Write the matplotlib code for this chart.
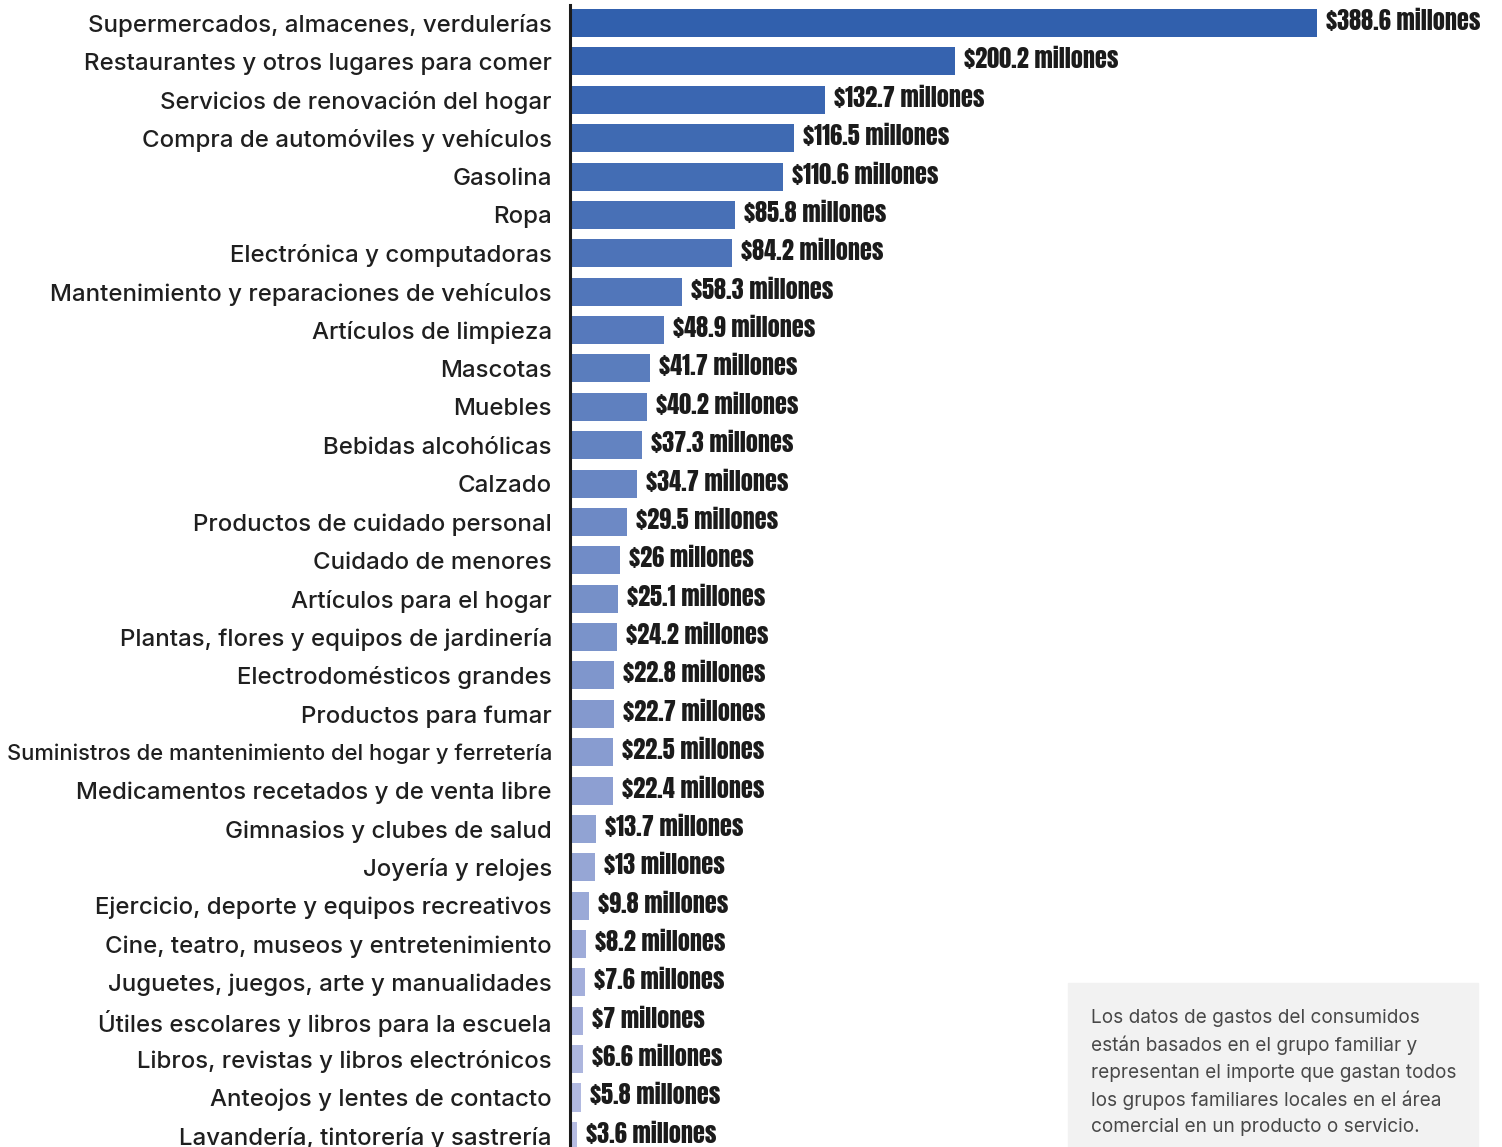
import matplotlib
matplotlib.use("Agg")
import matplotlib.pyplot as plt
import matplotlib.colors as mcolors
from matplotlib import font_manager
import numpy as np

categories = [
    "Supermercados, almacenes, verdulerías",
    "Restaurantes y otros lugares para comer",
    "Servicios de renovación del hogar",
    "Compra de automóviles y vehículos",
    "Gasolina",
    "Ropa",
    "Electrónica y computadoras",
    "Mantenimiento y reparaciones de vehículos",
    "Artículos de limpieza",
    "Mascotas",
    "Muebles",
    "Bebidas alcohólicas",
    "Calzado",
    "Productos de cuidado personal",
    "Cuidado de menores",
    "Artículos para el hogar",
    "Plantas, flores y equipos de jardinería",
    "Electrodomésticos grandes",
    "Productos para fumar",
    "Suministros de mantenimiento del hogar y ferretería",
    "Medicamentos recetados y de venta libre",
    "Gimnasios y clubes de salud",
    "Joyería y relojes",
    "Ejercicio, deporte y equipos recreativos",
    "Cine, teatro, museos y entretenimiento",
    "Juguetes, juegos, arte y manualidades",
    "Útiles escolares y libros para la escuela",
    "Libros, revistas y libros electrónicos",
    "Anteojos y lentes de contacto",
    "Lavandería, tintorería y sastrería",
]
values = [388.6, 200.2, 132.7, 116.5, 110.6, 85.8, 84.2, 58.3, 48.9, 41.7,
          40.2, 37.3, 34.7, 29.5, 26, 25.1, 24.2, 22.8, 22.7, 22.5,
          22.4, 13.7, 13, 9.8, 8.2, 7.6, 7, 6.6, 5.8, 3.6]
note = ("Los datos de gastos del consumidos\n"
        "están basados en el grupo familiar y\n"
        "representan el importe que gastan todos\n"
        "los grupos familiares locales en el área\n"
        "comercial en un producto o servicio.")

available = {f.name for f in font_manager.fontManager.ttflist}
label_font = "Inter" if "Inter" in available else "DejaVu Sans"
value_font = "Anton" if "Anton" in available else "DejaVu Sans"

W, H = 1502, 1147
fig = plt.figure(figsize=(W / 100, H / 100), dpi=100)
ax_left = 570 / W
ax = fig.add_axes([ax_left, 0.0, 1 - ax_left, 1 - 5 / H])

n = len(values)
c0 = np.array(mcolors.to_rgb("#3160AD"))
c1 = np.array(mcolors.to_rgb("#B6BCE2"))
colors = [tuple(c0 + (c1 - c0) * i / (n - 1)) for i in range(n)]

y = np.arange(n)
ax.barh(y, values, height=0.73, color=colors, left=0)
scale = 747 / 388.6  # px per unit
xmax = (W - 570) / scale
ax.set_xlim(0, xmax)
ax.set_ylim(29.29, -0.47)

for yi, v in zip(y, values):
    ax.annotate(f"${v:g} millones", (v, yi), xytext=(9, 2), textcoords="offset pixels",
                va="center", ha="left", fontsize=17.5,
                family=value_font, color="#1b1b1b")

ax.set_yticks(y)
ax.set_yticklabels(categories, fontsize=17.3, family=label_font, fontweight=500,
                   color="#1f1f1f")
ax.tick_params(axis="y", length=0, pad=13)

# shrink any label that would run past the left edge of the figure
fig.canvas.draw()
r = fig.canvas.get_renderer()
avail_px = 552 - 6
for t in ax.get_yticklabels():
    w = t.get_window_extent(r).width
    if w > avail_px:
        t.set_fontsize(t.get_fontsize() * avail_px / w)

ax.set_xticks([])
for s in ["top", "right", "bottom"]:
    ax.spines[s].set_visible(False)
ax.spines["left"].set_linewidth(2.2)
ax.spines["left"].set_color("#1b1b1b")

# note box
fig.patches.append(plt.Rectangle((1068 / W, 0), (1478 - 1068) / W, (H - 983) / H,
                                 transform=fig.transFigure, color="#f2f2f2", zorder=0))
fig.text(1091 / W, 1 - 1009 / H, note, ha="left", va="top", fontsize=13.7,
         family=label_font, color="#484848", linespacing=1.58)

fig.savefig("out.png", dpi=100)
